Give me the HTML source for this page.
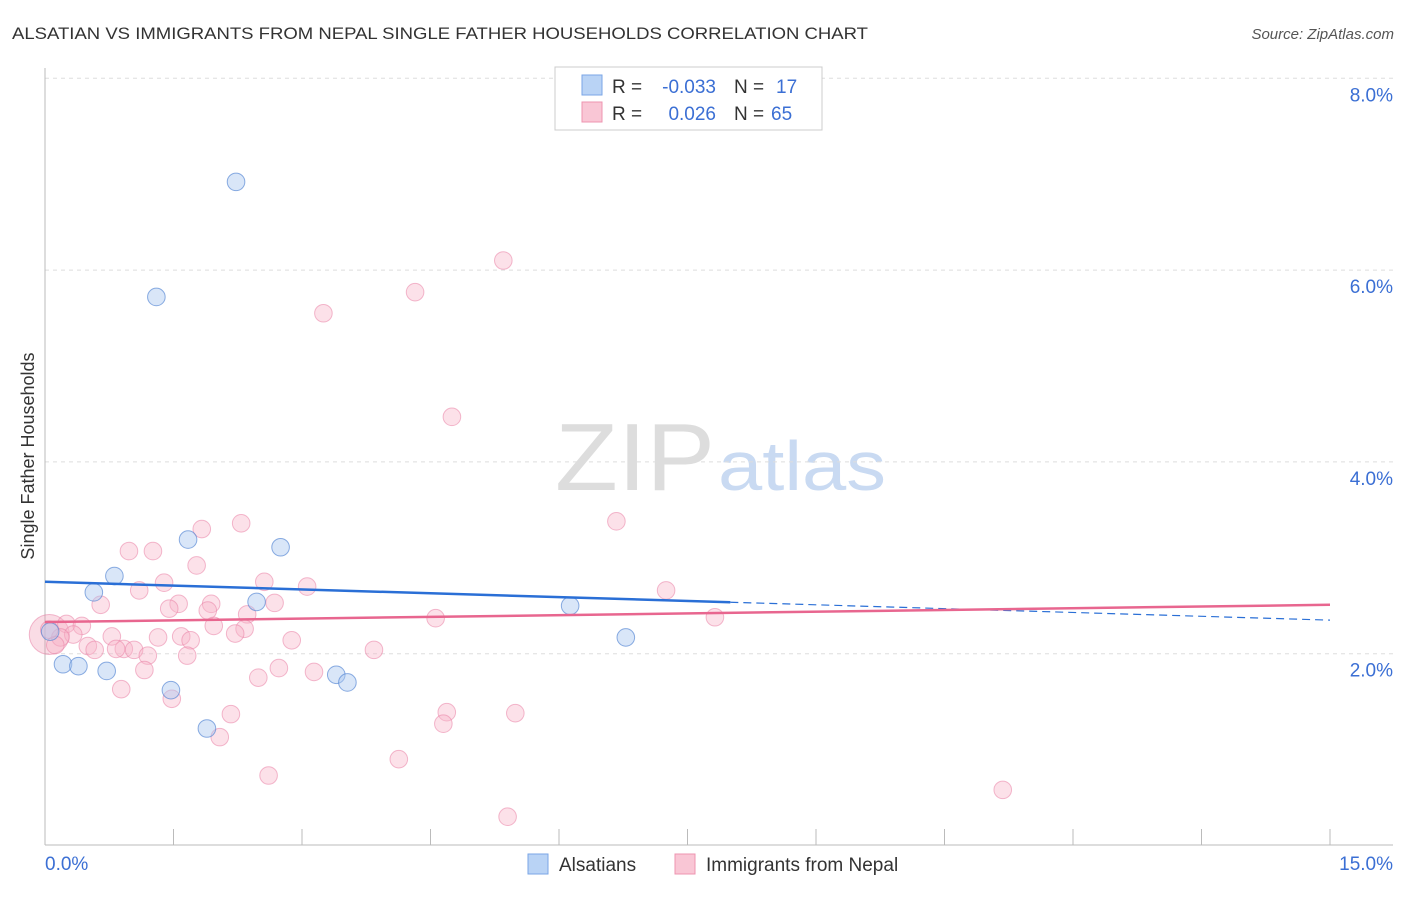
<!DOCTYPE html>
<html><head><meta charset="utf-8"><style>
body{margin:0;background:#fff;font-family:"Liberation Sans",sans-serif;}
svg text{font-family:"Liberation Sans",sans-serif;}
</style></head><body>
<svg width="1406" height="892" xmlns="http://www.w3.org/2000/svg" id="chart">
<text x="12" y="39" font-size="17" fill="#333" textLength="856" lengthAdjust="spacingAndGlyphs">ALSATIAN VS IMMIGRANTS FROM NEPAL SINGLE FATHER HOUSEHOLDS CORRELATION CHART</text>
<text x="1394" y="39" font-size="15" fill="#555" text-anchor="end" font-style="italic">Source: ZipAtlas.com</text>
<text x="555" y="490" font-size="96" fill="#ddd" font-family="Liberation Serif" textLength="160" lengthAdjust="spacingAndGlyphs">ZIP</text>
<text x="718" y="490" font-size="70" fill="#c9daf2" textLength="168" lengthAdjust="spacingAndGlyphs">atlas</text>
<g id="grid"></g>
<g id="axes"></g>
<g id="pts"></g>
<g id="trend"></g>
<text transform="translate(34,456) rotate(-90)" font-size="18" fill="#333" text-anchor="middle">Single Father Households</text>
<g>
<rect x="555" y="67" width="267" height="63" fill="#fff" stroke="#ccc"/>
<rect x="582" y="75" width="20" height="20" fill="#b9d3f5" stroke="#7aa6e6"/>
<rect x="582" y="102" width="20" height="20" fill="#f9c6d5" stroke="#ee94b0"/>
<text x="612" y="93" font-size="19" fill="#333">R =</text>
<text x="716" y="93" font-size="19" fill="#3b6fd4" text-anchor="end">-0.033</text>
<text x="734" y="93" font-size="19" fill="#333">N =</text>
<text x="776" y="93" font-size="19" fill="#3b6fd4">17</text>
<text x="612" y="120" font-size="19" fill="#333">R =</text>
<text x="716" y="120" font-size="19" fill="#3b6fd4" text-anchor="end">0.026</text>
<text x="734" y="120" font-size="19" fill="#333">N =</text>
<text x="771" y="120" font-size="19" fill="#3b6fd4">65</text>
</g>
<g>
<rect x="528" y="854" width="20" height="20" fill="#b9d3f5" stroke="#7aa6e6"/>
<text x="559" y="871" font-size="19" fill="#333">Alsatians</text>
<rect x="675" y="854" width="20" height="20" fill="#f9c6d5" stroke="#ee94b0"/>
<text x="706" y="871" font-size="19" fill="#333">Immigrants from Nepal</text>
</g>
</svg>
<script>
const yTicks=[2,4,6,8];
const yTickLabels=["2.0%","4.0%","6.0%","8.0%"];
const xTickLabels=["0.0%","15.0%"];
const blueX=[2.23,1.30,1.67,2.75,0.81,0.57,2.47,6.13,6.78,0.21,0.39,0.72,3.40,3.53,1.47,1.89,0.06];
const blueY=[6.92,5.72,3.19,3.11,2.81,2.64,2.54,2.50,2.17,1.89,1.87,1.82,1.78,1.70,1.62,1.22,2.23];
const pinkX=[5.35,4.32,3.25,4.75,6.67,2.29,1.83,0.98,1.26,1.77,1.39,2.56,3.06,1.10,7.25,1.56,1.94,0.65,2.68,1.45,1.90,2.36,4.56,7.82,0.25,0.43,1.97,2.33,2.22,0.78,1.32,1.59,2.88,1.70,0.33,0.18,0.50,0.58,0.92,1.04,0.83,1.20,1.66,3.84,2.73,3.14,2.49,1.16,0.89,1.48,4.69,5.49,2.17,4.65,2.04,4.13,2.61,11.18,5.40,0.12,0.05];
const pinkY=[6.10,5.77,5.55,4.47,3.38,3.36,3.30,3.07,3.07,2.92,2.74,2.75,2.70,2.66,2.66,2.52,2.52,2.51,2.53,2.47,2.45,2.41,2.37,2.38,2.31,2.29,2.29,2.26,2.21,2.18,2.17,2.18,2.14,2.14,2.20,2.17,2.08,2.04,2.05,2.04,2.05,1.98,1.98,2.04,1.85,1.81,1.75,1.83,1.63,1.53,1.39,1.38,1.37,1.27,1.13,0.90,0.73,0.58,0.30,2.09,2.25];
const blueTrend=[2.75,2.35];
const pinkTrend=[2.33,2.51];
const NS="http://www.w3.org/2000/svg";
const X=v=>45+v/15*1285, Y=v=>845.5-v*95.9;
function mk(t,a,p){const e=document.createElementNS(NS,t);for(const k in a)e.setAttribute(k,a[k]);document.getElementById(p).appendChild(e);return e;}
yTicks.forEach((t,i)=>{
 const l=mk('line',{x1:45,x2:1393,y1:Y(t),y2:Y(t),stroke:'#ddd','stroke-dasharray':'4,4'},'grid');
 
 
 const tx=mk('text',{x:1393,y:Y(t)+23,'font-size':19,fill:'#3b6fd4','text-anchor':'end'},'grid');
 tx.textContent=yTickLabels[i];
 
 
});
const ax=mk('line',{x1:45,x2:1393,y1:845,y2:845,stroke:'#bbb'},'axes');


const ay=mk('line',{x1:45,x2:45,y1:68,y2:845,stroke:'#bbb'},'axes');


for(let i=0;i<=10;i++){const t=mk('line',{x1:X(i*1.5),x2:X(i*1.5),y1:829,y2:845,stroke:'#bbb'},'axes');
 
 }
[[0,'start',45],[15,'end',1393]].forEach((d,i)=>{const t=mk('text',{x:d[2],y:870,'font-size':19,fill:'#3b6fd4','text-anchor':d[1]},'axes');t.textContent=xTickLabels[i];
 
 });
const big=mk('circle',{cx:X(0.05),cy:Y(2.2),r:20,fill:'rgba(240,140,170,0.3)',stroke:'rgba(230,120,160,0.5)'},'pts');


pinkX.forEach((x,i)=>{const c=mk('circle',{cx:X(x),cy:Y(pinkY[i]),r:8.8,fill:'rgba(248,180,200,0.4)',stroke:'rgba(234,130,165,0.55)'},'pts');
 
 });
blueX.forEach((x,i)=>{const c=mk('circle',{cx:X(x),cy:Y(blueY[i]),r:8.8,fill:'rgba(170,200,240,0.45)',stroke:'rgba(80,130,210,0.65)'},'pts');
 
 });
const bm=blueTrend[0]+(blueTrend[1]-blueTrend[0])*(8/15);
const b1=mk('line',{x1:X(0),y1:Y(blueTrend[0]),x2:X(8),y2:Y(bm),stroke:'#2a6fd6','stroke-width':2.5},'trend');


const b2=mk('line',{x1:X(8),y1:Y(bm),x2:X(15),y2:Y(blueTrend[1]),stroke:'#2a6fd6','stroke-width':1.2,'stroke-dasharray':'8,5'},'trend');


const p1=mk('line',{x1:X(0),y1:Y(pinkTrend[0]),x2:X(15),y2:Y(pinkTrend[1]),stroke:'#e8668f','stroke-width':2.5},'trend');


</script>
</body></html>
